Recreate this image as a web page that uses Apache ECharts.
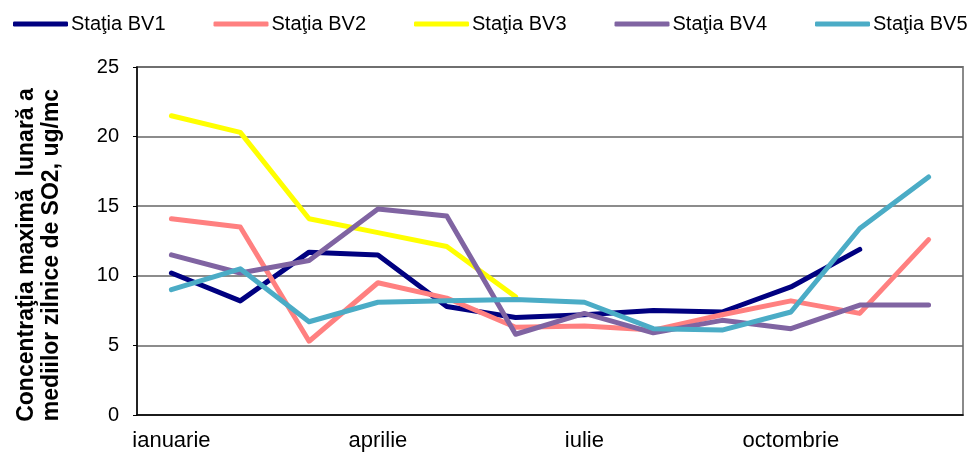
<!DOCTYPE html>
<html lang="ro">
<head>
    <meta charset="UTF-8">
    <title>SO2 - concentratii maxime lunare</title>
    <script src="https://cdn.jsdelivr.net/npm/echarts@6/dist/echarts.min.js"></script>
    <style>
        body { margin: 0; background: #fff; }
    </style>
</head>
<body>
    <div id="main" style="width: 974px;height:452px;"></div>
    <script type="text/javascript">
        // luni (doar fiecare a treia eticheta e afisata)
        const months = ['ianuarie', 'februarie', 'martie', 'aprilie', 'mai', 'iunie',
            'iulie', 'august', 'septembrie', 'octombrie', 'noiembrie', 'decembrie'];

        // valori, ug/mc
        const bv1 = [10.2, 8.2, 11.7, 11.5, 7.8, 7.0, 7.2, 7.5, 7.4, 9.2, 11.9, null];
        const bv2 = [14.1, 13.5, 5.3, 9.5, 8.4, 6.3, 6.4, 6.1, 7.2, 8.2, 7.3, 12.6];
        const bv3 = [21.5, 20.3, 14.1, 13.1, 12.1, 8.5, null, null, null, null, null, null];
        const bv4 = [11.5, 10.2, 11.1, 14.8, 14.3, 5.8, 7.3, 5.9, 6.8, 6.2, 7.9, 7.9];
        const bv5 = [9.0, 10.5, 6.7, 8.1, 8.2, 8.3, 8.1, 6.2, 6.1, 7.4, 13.4, 17.1];

        const seriesNames = ['Staţia BV1', 'Staţia BV2', 'Staţia BV3', 'Staţia BV4', 'Staţia BV5'];
        const seriesData = [bv1, bv2, bv3, bv4, bv5];
        const colors = ['#000080', '#ff8080', '#ffff00', '#8064a2', '#4bacc6'];

        const font = 'Liberation Sans, Arial, sans-serif';

        let myChart = echarts.init(document.getElementById('main'));

        let options = {
            animation: false,
            color: colors,
            textStyle: { fontFamily: font },
            legend: {
                top: 9,
                left: 8,
                itemWidth: 55,
                itemHeight: 5,
                itemGap: 48,
                icon: 'roundRect',
                textStyle: { fontSize: 20, color: '#000', padding: [0, 0, 0, -2] },
                data: seriesNames
            },
            grid: {
                left: 137,
                right: 11,
                top: 67,
                bottom: 37,
                outerBoundsMode: 'none',
                containLabel: false,
                show: true,
                borderColor: '#8a8a8a',
                borderWidth: 2
            },
            xAxis: {
                type: 'category',
                data: months,
                boundaryGap: true,
                axisLine: { lineStyle: { color: '#000', width: 1.5 } },
                axisTick: { interval: 0, length: 7, lineStyle: { color: '#000' } },
                axisLabel: { interval: 2, fontSize: 22, color: '#000', margin: 15 }
            },
            yAxis: {
                type: 'value',
                min: 0,
                max: 25,
                interval: 5,
                name: 'Concentraţia maximă  lunară a\nmediilor zilnice de SO2, ug/mc',
                nameLocation: 'middle',
                nameRotate: 90,
                nameGap: 73,
                nameMoveOverlap: false,
                nameTextStyle: {
                    fontSize: 23, fontWeight: 'bold', color: '#000', lineHeight: 25,
                    padding: [0, 28, 0, 0]
                },
                axisLine: { show: true, lineStyle: { color: '#000', width: 1.5 } },
                axisTick: { show: true, length: 4, lineStyle: { color: '#000' } },
                axisLabel: { fontSize: 20, color: '#000', margin: 18 },
                splitLine: { lineStyle: { color: '#666', width: 1.5 } }
            },
            series: seriesNames.map((name, i) => ({
                name: name,
                type: 'line',
                data: seriesData[i],
                symbol: 'none',
                connectNulls: false,
                lineStyle: { width: 5, color: colors[i], cap: 'round', join: 'round' }
            }))
        };

        myChart.setOption(options);
    </script>
</body>
</html>
